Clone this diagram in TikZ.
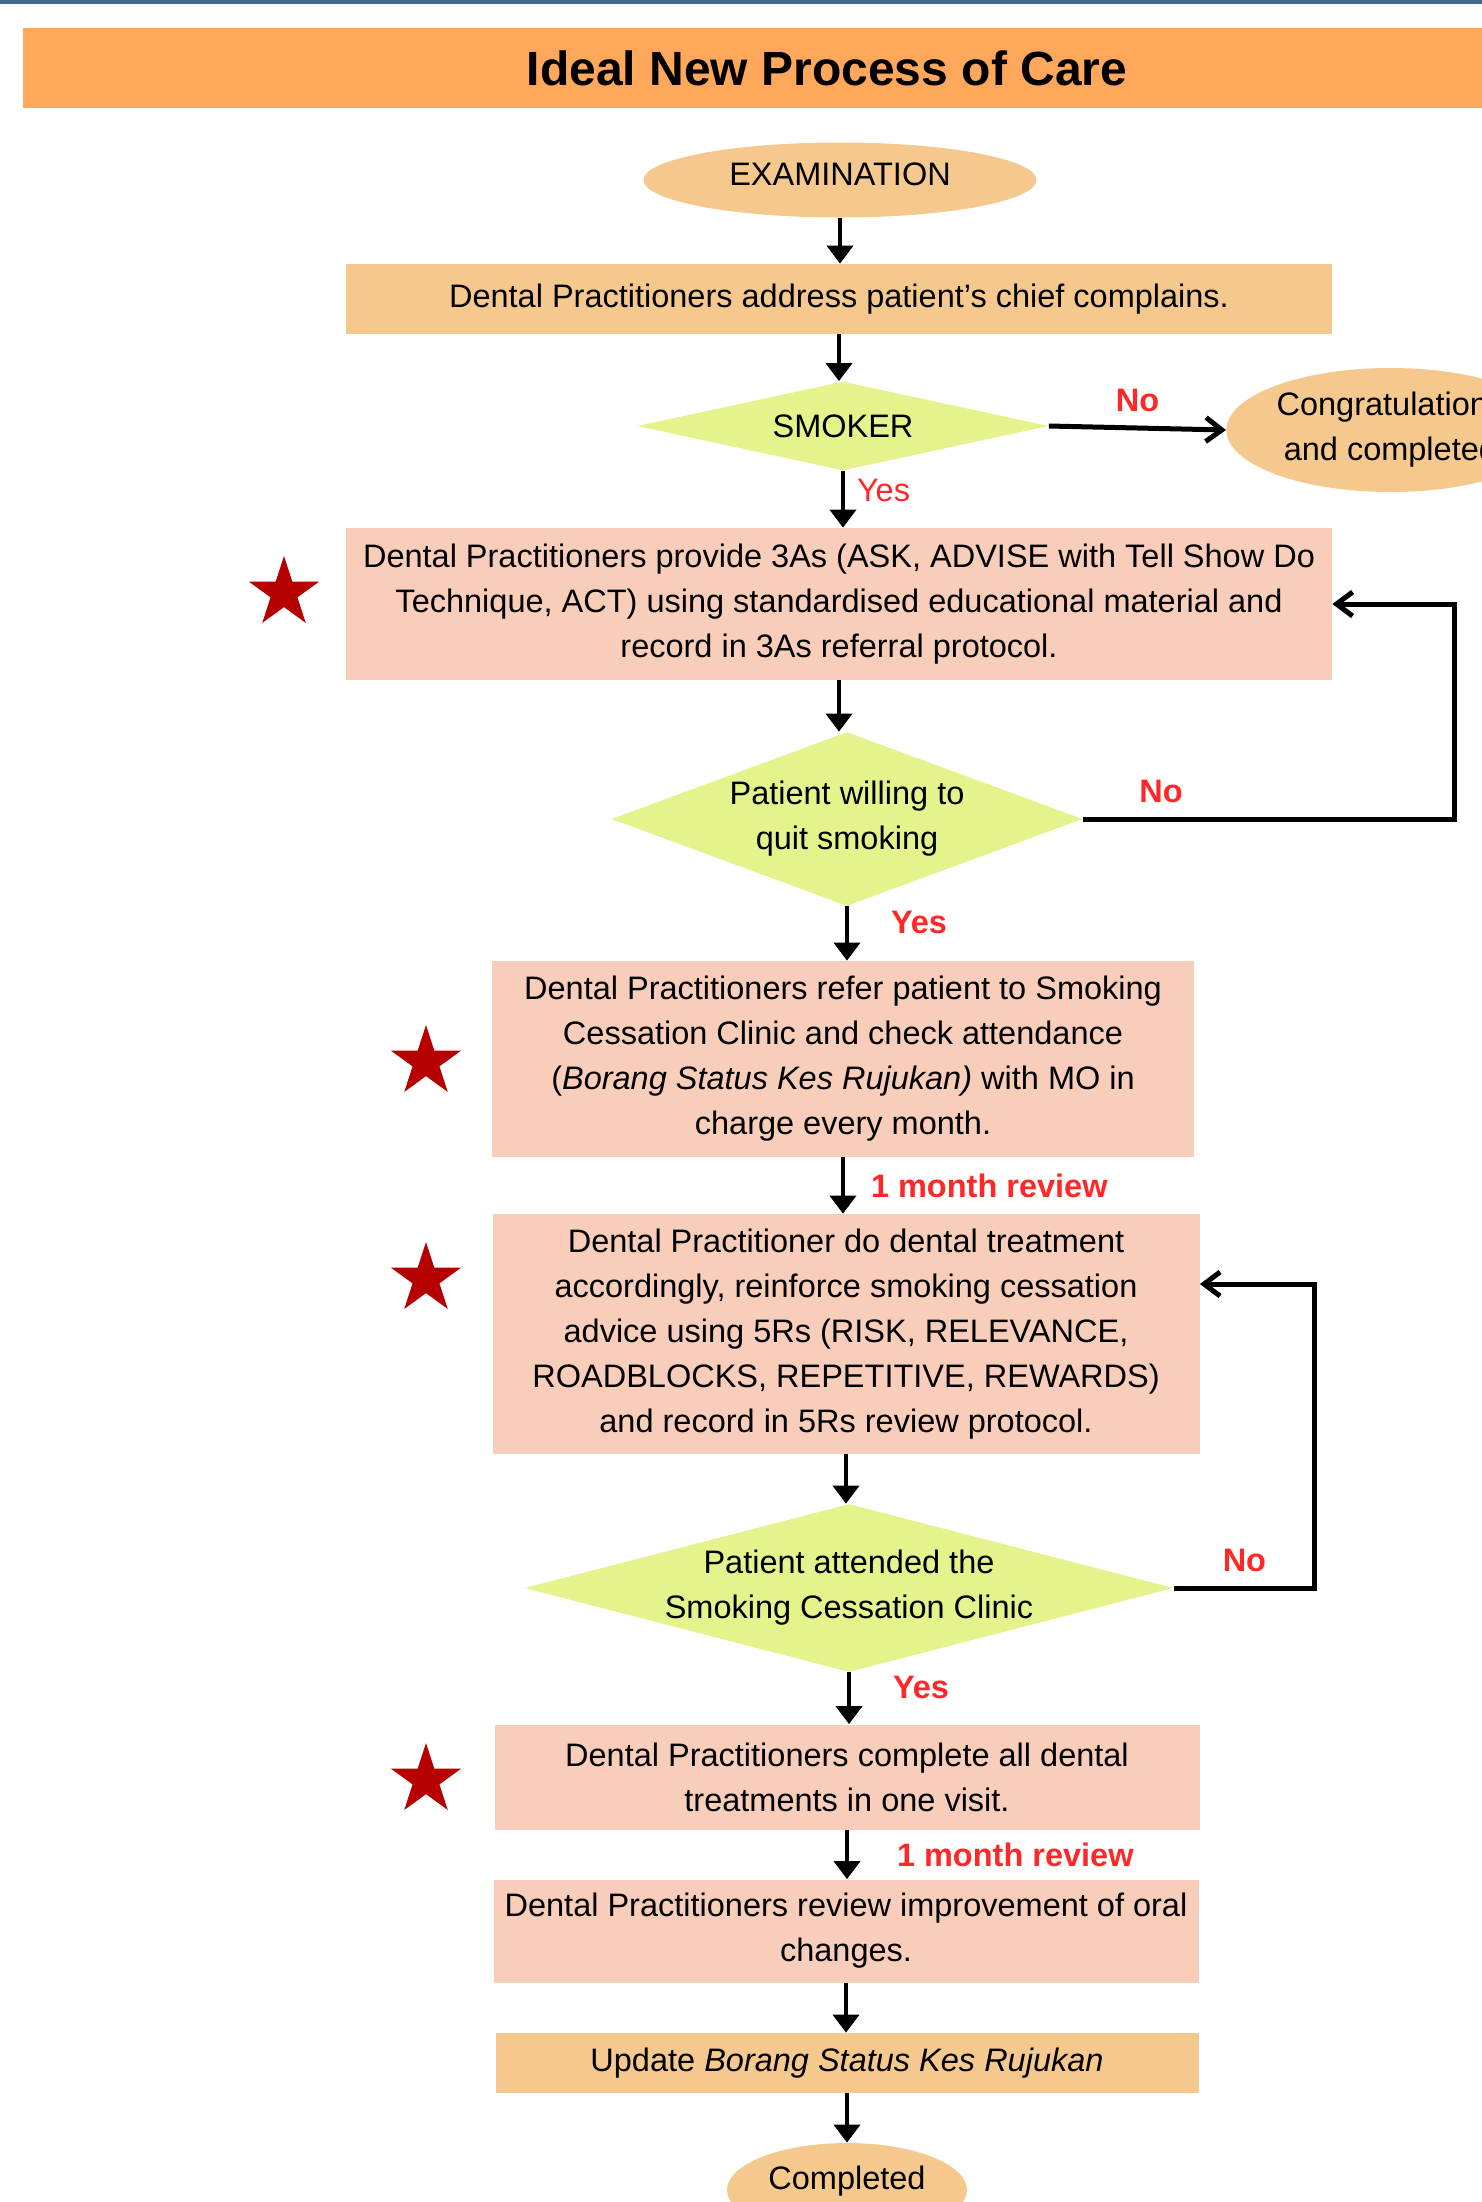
\documentclass[tikz,border=0pt]{standalone}
\usepackage{fontspec}
\setmainfont{Liberation Sans}
\usetikzlibrary{arrows.meta, positioning, calc, shapes.geometric}
\definecolor{topline}{RGB}{62,108,140}
\definecolor{titlebar}{RGB}{255,168,92}
\definecolor{startfill}{RGB}{245,201,142}
\definecolor{actfill}{RGB}{248,205,186}
\definecolor{askfill}{RGB}{230,243,140}
\definecolor{yesno}{RGB}{255,40,40}
\definecolor{starcol}{RGB}{182,0,0}
\newcommand{\bodyfont}{\fontsize{16.25}{22.5}\selectfont}

\begin{document}
\begin{tikzpicture}[
  x=0.5pt, y=-0.5pt,
  endnode/.style={
    ellipse, fill=startfill, inner sep=0pt, align=center, font=\bodyfont
  },
  notebox/.style={
    fill=startfill, inner sep=0pt, align=center, font=\bodyfont
  },
  actbox/.style={
    fill=actfill, inner sep=0pt, align=center, font=\bodyfont
  },
  askbox/.style={
    diamond, fill=askfill, inner sep=-5pt, align=center, font=\bodyfont
  },
  starmark/.style={
    star, star points=5, star point ratio=2.62, fill=starcol,
    inner sep=0pt, minimum size=37pt
  },
  arr/.style={-{Triangle[length=9pt,width=13pt]}, line width=2pt},
  backarr/.style={-{Straight Barb[length=8pt,width=12pt]}, line width=2.5pt},
  lbl/.style={text=yesno, inner sep=0pt, font=\bfseries\fontsize{16.25}{18}\selectfont},
  lblthin/.style={text=yesno, inner sep=0pt, font=\bodyfont},
]
\useasboundingbox (0,0) rectangle (1482,2202);
\clip (0,0) rectangle (1482,2202);

% --- Header ---
\fill[topline] (0,0) rectangle (1482,4);
\node[fill=titlebar, minimum width=804pt, minimum height=40pt,
      font=\bfseries\fontsize{24}{28}\selectfont] (title) at (827,68)
  {Ideal New Process of Care};

% --- Main flow ---
\node[endnode, minimum width=196.5pt, minimum height=37.5pt, text depth=6pt] (exam) at (840,180) {EXAMINATION};
\node[notebox, minimum width=493pt, minimum height=35pt] (chief) at (839,299)
  {Dental Practitioners address patient’s chief complains.};
\node[askbox, aspect=4.62, minimum width=205.5pt, minimum height=44.5pt] (smoker) at (843,426) {SMOKER};
\node[endnode, anchor=west, minimum width=164pt, minimum height=62pt] (congrats) at (1226,430)
  {Congratulations\\and completed};
\node[actbox, minimum width=493pt, minimum height=76pt] (advise) at (839,604)
  {Dental Practitioners provide 3As (ASK, ADVISE with Tell Show Do\\
   Technique, ACT) using standardised educational material and\\
   record in 3As referral protocol.};
\node[askbox, aspect=2.71, minimum width=235.5pt, minimum height=87pt] (willing) at (847,819)
  {Patient willing to\\quit smoking};
\node[actbox, minimum width=351pt, minimum height=98pt] (refer) at (843,1059)
  {Dental Practitioners refer patient to Smoking\\
   Cessation Clinic and check attendance\\
   (\textit{Borang Status Kes Rujukan)} with MO in\\
   charge every month.};
\node[actbox, minimum width=353.5pt, minimum height=120pt] (treat) at (846,1334)
  {Dental Practitioner do dental treatment\\
   accordingly, reinforce smoking cessation\\
   advice using 5Rs (RISK, RELEVANCE,\\
   ROADBLOCKS, REPETITIVE, REWARDS)\\
   and record in 5Rs review protocol.};
\node[askbox, aspect=3.86, minimum width=324.5pt, minimum height=84pt] (attend) at (849,1588)
  {Patient attended the\\Smoking Cessation Clinic};
\node[actbox, minimum width=352.5pt, minimum height=52.5pt] (complete) at (847,1777)
  {Dental Practitioners complete all dental\\treatments in one visit.};
\node[actbox, minimum width=352.5pt, minimum height=51.5pt] (review) at (846,1931)
  {Dental Practitioners review improvement of oral\\changes.};
\node[notebox, minimum width=351.5pt, minimum height=30pt] (update) at (847,2063)
  {Update \textit{Borang Status Kes Rujukan}};
\node[endnode, minimum width=120pt, minimum height=47pt, text depth=12.5pt] (done) at (847,2190) {Completed};

% --- Stars ---
\node[starmark] (star1) at (284,593) {};
\node[starmark] (star2) at (426,1062) {};
\node[starmark] (star3) at (426,1279) {};
\node[starmark] (star4) at (426,1780) {};

% --- Arrows down ---
\draw[arr] (exam.south) -- (exam.south |- chief.north);
\draw[arr] (chief.south) -- (chief.south |- smoker.north);
\draw[arr] (smoker.south) -- (smoker.south |- advise.north)
  node[lblthin, pos=0.35, anchor=west, xshift=6pt] (yes1) {Yes};
\draw[arr] (advise.south) -- (advise.south |- willing.north);
\draw[arr] (willing.south) -- (willing.south |- refer.north)
  node[lbl, pos=0.3, anchor=west, xshift=21pt] (yes2) {Yes};
\draw[arr] (refer.south) -- (refer.south |- treat.north)
  node[lbl, midway, anchor=west, xshift=13pt] (month1) {1 month review};
\draw[arr] (treat.south) -- (treat.south |- attend.north);
\draw[arr] (attend.south) -- (attend.south |- complete.north)
  node[lbl, pos=0.3, anchor=west, xshift=21pt] (yes3) {Yes};
\draw[arr] (complete.south) -- (complete.south |- review.north)
  node[lbl, midway, anchor=west, xshift=24pt] (month2) {1 month review};
\draw[arr] (review.south) -- (review.south |- update.north);
\draw[arr] (update.south) -- (update.south |- done.north);

% --- No branches ---
\draw[backarr] (smoker.east) -- (congrats.west)
  node[lbl, midway, above=7pt] (no1) {No};
\draw[backarr] (willing.east) -- node[lbl, pos=0.21, above=7pt] (no2) {No} ++(372,0)
  |- (advise.east);
\draw[backarr] (attend.east) -- node[lbl, midway, above=7pt] (no3) {No} ++(141,0)
  |- ($(treat.east)+(0,-50)$);

\end{tikzpicture}
\end{document}
